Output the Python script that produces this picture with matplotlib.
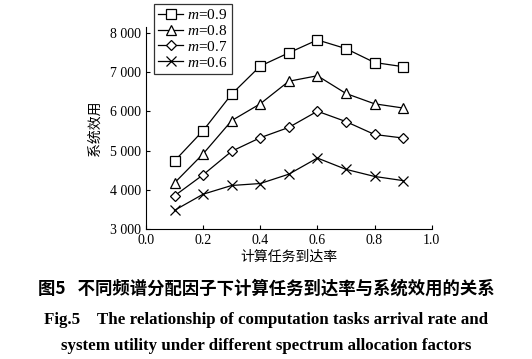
import matplotlib
matplotlib.use("Agg")
import matplotlib.pyplot as plt
from matplotlib.ticker import FuncFormatter

x = [0.1, 0.2, 0.3, 0.4, 0.5, 0.6, 0.7, 0.8, 0.9]
m09 = [4735, 5508, 6438, 7153, 7490, 7819, 7597, 7243, 7137]
m08 = [4176, 4916, 5763, 6191, 6766, 6906, 6454, 6191, 6084]
m07 = [3847, 4382, 4982, 5327, 5590, 6002, 5738, 5409, 5319]
m06 = [3477, 3888, 4110, 4160, 4398, 4809, 4521, 4340, 4234]
labels = ["0.9", "0.8", "0.7", "0.6"]
xticks = [0.0, 0.2, 0.4, 0.6, 0.8, 1.0]
yticks = [3000, 4000, 5000, 6000, 7000, 8000]

serif = "Liberation Serif"
cjk = "Noto Sans CJK SC"
plt.rcParams["mathtext.fontset"] = "custom"
plt.rcParams["mathtext.rm"] = "Liberation Serif"
plt.rcParams["mathtext.it"] = "Liberation Serif:italic"

fig = plt.figure(figsize=(5.32, 3.59), dpi=100)
ax = fig.add_axes([0.2744, 0.362, 0.537, 0.563])

series = [m09, m08, m07, m06]
markers = ["s", "^", "D", "x"]
msizes = [6.5, 7, 5, 6.5]
handles = []
for ys, mk, ms, lb in zip(series, markers, msizes, labels):
    h, = ax.plot(x, ys, color="black", lw=0.9, marker=mk, ms=ms,
                 mfc="white", mec="black", mew=0.9,
                 label=r"$\mathit{m}$=" + lb)
    handles.append(h)

ax.set_xlim(0, 1.0)
ax.set_ylim(3000, 8150)
ax.set_xticks(xticks)
ax.set_yticks(yticks)
ax.xaxis.set_major_formatter(FuncFormatter(lambda v, p: f"{v:.1f}"))
ax.yaxis.set_major_formatter(FuncFormatter(lambda v, p: f"{int(v)//1000} {int(v)%1000:03d}"))
for lab in ax.get_xticklabels() + ax.get_yticklabels():
    lab.set_fontfamily(serif)
    lab.set_fontsize(10)
ax.tick_params(direction="in", length=3, width=0.8)
ax.spines["top"].set_visible(False)
ax.spines["right"].set_visible(False)

ax.set_xlabel("计算任务到达率", fontfamily=cjk, fontsize=10, labelpad=2)
ax.set_ylabel("系统效用", fontfamily=cjk, fontsize=10, labelpad=6)

leg = fig.legend(handles=handles, loc="upper left", bbox_to_anchor=(0.289, 0.99),
                 prop={"family": serif, "size": 11}, frameon=True, fancybox=False,
                 edgecolor="black", handlelength=1.6, handletextpad=0.3,
                 labelspacing=0.12, borderpad=0.3, borderaxespad=0)
leg.get_frame().set_linewidth(0.9)

fig.text(0.5, 0.195, "图5   不同频谱分配因子下计算任务到达率与系统效用的关系",
         ha="center", va="center", fontfamily=[cjk, "DejaVu Sans"], fontsize=12.5, fontweight="bold")
fig.text(0.5, 0.108, "Fig.5    The relationship of computation tasks arrival rate and",
         ha="center", va="center", fontfamily=serif, fontsize=12.2, fontweight="bold")
fig.text(0.5, 0.035, "system utility under different spectrum allocation factors",
         ha="center", va="center", fontfamily=serif, fontsize=12.2, fontweight="bold")

fig.savefig("out.png", dpi=100)
